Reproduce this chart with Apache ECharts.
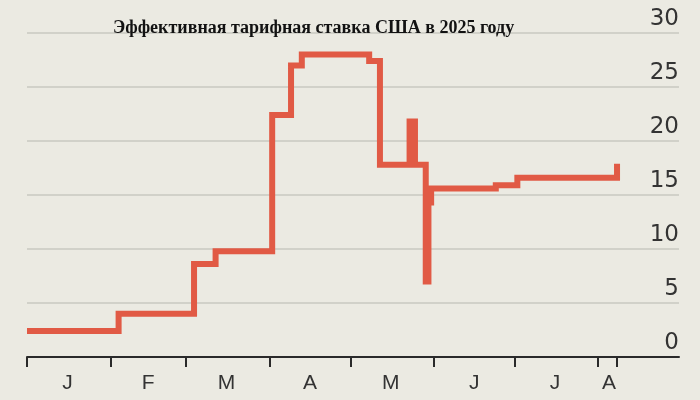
<!DOCTYPE html>
<html>
<head>
<meta charset="utf-8">
<script src="https://cdn.jsdelivr.net/npm/echarts@6/dist/echarts.min.js"></script>
<style>
html,body{margin:0;padding:0;background:#ebeae2;}
#chart{width:700px;height:400px;}
</style>
</head>
<body>
<div id="chart"></div>
<script>
// Data
const titleText = 'Эффективная тарифная ставка США в 2025 году';
const dates = ['2025-01-01','2025-02-04','2025-03-04','2025-03-12','2025-04-02','2025-04-09','2025-04-13','2025-05-08','2025-05-12','2025-05-23','2025-05-25','2025-05-29','2025-05-30','2025-05-31','2025-06-24','2025-07-02','2025-08-08'];
const rates = [2.4, 4.0, 8.6, 9.8, 22.4, 27.0, 28.0, 27.4, 17.8, 21.8, 17.8, 7.0, 14.3, 15.6, 15.9, 16.6, 17.9];
const tickDates = ['2025-01-01','2025-02-01','2025-03-01','2025-04-01','2025-05-01','2025-06-01','2025-07-01','2025-08-01','2025-08-08'];
const labelDates = ['2025-01-16','2025-02-15','2025-03-16','2025-04-16','2025-05-16','2025-06-16','2025-07-16','2025-08-05'];
const monthLabels = ['J','F','M','A','M','J','J','A'];
const axisStart = '2025-01-01';
const axisEnd = '2025-08-31';
const yTicks = [0, 5, 10, 15, 20, 25, 30];

// day index since Jan 1
const day = d => Math.round((Date.parse(d + 'T00:00:00Z') - Date.parse(axisStart + 'T00:00:00Z')) / 86400000);
const labelDays = labelDates.map(day);

const chart = echarts.init(document.getElementById('chart'), null, {renderer: 'canvas'});
chart.setOption({
  backgroundColor: '#ebeae2',
  animation: false,
  title: {
    text: titleText,
    left: 108,
    top: 14,
    textStyle: {fontFamily: 'Liberation Serif', fontWeight: 'bold', fontSize: 18, color: '#121212'}
  },
  grid: {left: 27, right: 21, top: 33, bottom: 43, outerBoundsMode: 'none'},
  xAxis: {
    type: 'value',
    min: day(axisStart),
    max: day(axisEnd),
    axisLine: {show: true, onZero: false, lineStyle: {color: '#2a2a2a', width: 2}},
    axisTick: {show: true, customValues: tickDates.map(day), length: 10, lineStyle: {color: '#2a2a2a', width: 2}},
    axisLabel: {
      customValues: labelDays,
      formatter: v => monthLabels[labelDays.indexOf(v)] || '',
      fontFamily: 'Liberation Sans', fontSize: 21, color: '#333', margin: 16
    },
    splitLine: {show: false}
  },
  yAxis: {
    type: 'value',
    position: 'right',
    min: yTicks[0], max: yTicks[yTicks.length - 1], interval: 5,
    axisLine: {show: false},
    axisTick: {show: false},
    axisLabel: {inside: true, verticalAlign: 'bottom', margin: 0, padding: [0, 0, 2, 0],
      fontFamily: 'DejaVu Sans', fontSize: 23, color: '#333'},
    splitLine: {show: true, lineStyle: {color: '#c9c8c0', width: 1.5}}
  },
  series: [{
    type: 'line',
    step: 'end',
    data: dates.map((d, i) => [day(d), rates[i]]),
    showSymbol: false,
    lineStyle: {color: '#e15a45', width: 6, join: 'miter', cap: 'butt'},
    z: 3
  }]
});
</script>
</body>
</html>
